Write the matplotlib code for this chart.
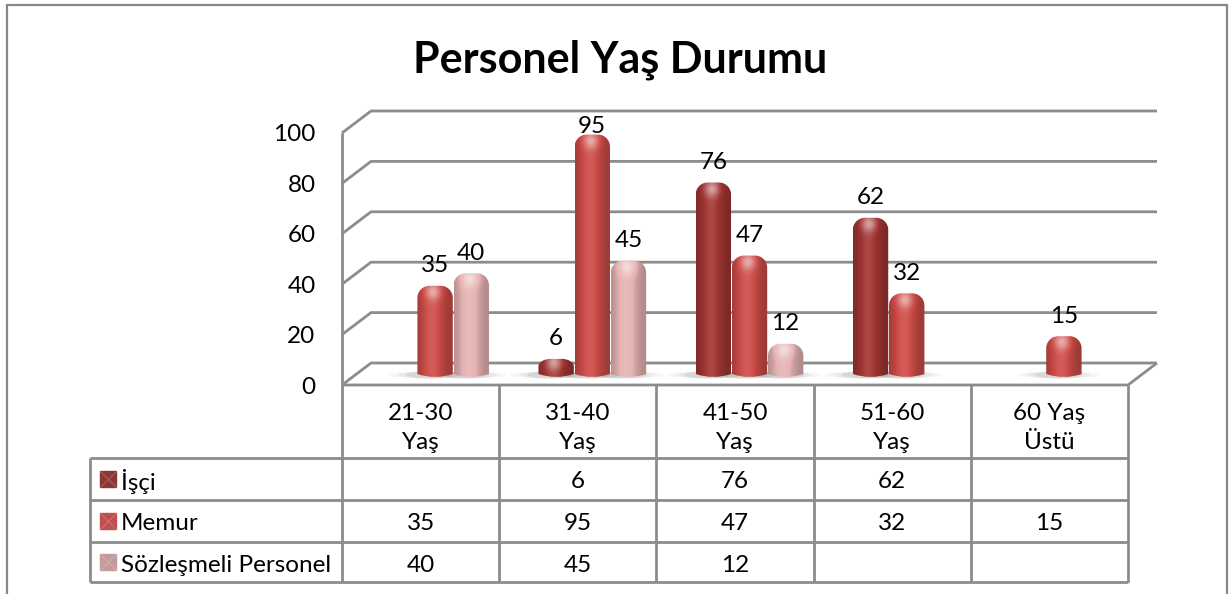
import numpy as np
import matplotlib
matplotlib.use('Agg')
import matplotlib.pyplot as plt
from matplotlib.patches import PathPatch, Ellipse, Rectangle
from matplotlib.path import Path
from matplotlib.colors import to_rgb

categories = ['21-30\nYaş', '31-40\nYaş', '41-50\nYaş', '51-60\nYaş', '60 Yaş\nÜstü']
series = ['İşçi', 'Memur', 'Sözleşmeli Personel']
isci = [None, 6, 76, 62, None]
memur = [35, 95, 47, 32, 15]
sozlesmeli = [40, 45, 12, None, None]
yticks = [0, 20, 40, 60, 80, 100]
title = 'Personel Yaş Durumu'

bar_colors = ['#a03532', '#cd4c48', '#e6b3b3']
key_colors = ['#8e3634', '#c0504d', '#c49a9a']
line_col = '#8c8c8c'

plt.rcParams['font.family'] = ['Lato', 'DejaVu Sans']
FS = 17.5

W, H = 1229, 594
fig = plt.figure(figsize=(W / 100, H / 100), dpi=100)

# front plane of the 3d box
ax = fig.add_axes([342 / W, 1 - 385 / H, 786 / W, 252 / H])
ax.set_autoscale_on(False)
ax.set_xlim(-0.5, len(categories) - 0.5)
ax.set_ylim(0, 100)
ax.axis('off')

# depth of the box in data units (about 29 px right, 22 px up)
DX = 29 / 157.2
DY = 22 / 2.52


def proj(x, v, d):
    return x + d * DX, v + d * DY


# walls and gridlines
grid = dict(color=line_col, lw=2, clip_on=False, solid_capstyle='butt', zorder=1)
xl, xr = -0.5, len(categories) - 0.5
for v in yticks:
    a, b, c = proj(xl, v, 0), proj(xl, v, 1), proj(xr, v, 1)
    ax.plot([a[0], b[0], c[0]], [a[1], b[1], c[1]], **grid)
    ax.annotate(str(v), (xl, v), xytext=(-19, 0), textcoords='offset points',
                ha='right', va='center_baseline', fontsize=FS, annotation_clip=False)
# floor front edge + right side
a, b = proj(xr, 0, 0), proj(xr, 0, 1)
ax.plot([xl, xr, b[0]], [0, 0, b[1]], **grid)
ax.plot([xl, xl], [0, 100], **grid)


def shade_img(color, wpx, hpx, rypx, rbpx):
    base = np.array(to_rgb(color))
    n = 60
    m = max(int(hpx + rbpx) + 2, 4)
    u = np.linspace(0, 1, n)[None, :]
    ypx = np.linspace(-rbpx, hpx, m)[:, None]
    s = 0.76 + 0.34 * np.exp(-((u - 0.42) / 0.3) ** 2)
    # highlight on the rounded top
    dtop = hpx - ypx
    spot = 0.5 * np.exp(-(((u - 0.45) * wpx) ** 2 + (dtop - rypx * 0.55) ** 2) / (2 * 5.5 ** 2))
    s = s + spot
    img = np.empty((m, n, 3))
    for k in range(3):
        ch = base[k] * np.minimum(s, 1) + (1 - base[k]) * np.clip(s - 1, 0, 1) * 0.9
        img[:, :, k] = ch
    return np.clip(img, 0, 1)


def cylinder(rect, color, z):
    x0, y0 = rect.get_x(), rect.get_y()
    w, h = rect.get_width(), rect.get_height()
    p0 = ax.transData.transform((x0, y0))
    p1 = ax.transData.transform((x0 + w, y0 + h))
    wpx, hpx = p1 - p0
    upy = h / hpx  # data units per pixel (vertical)
    rypx = min(0.34 * wpx, 0.5 * hpx)
    rx = 0.34 * w
    ry = rypx * upy
    rb = 3 * upy
    k = 0.55
    verts = [(x0, y0), (x0, y0 + h - ry),
             (x0, y0 + h - ry + k * ry), (x0 + rx - k * rx, y0 + h), (x0 + rx, y0 + h),
             (x0 + w - rx, y0 + h),
             (x0 + w - rx + k * rx, y0 + h), (x0 + w, y0 + h - ry + k * ry), (x0 + w, y0 + h - ry),
             (x0 + w, y0),
             (x0 + w / 2, y0 - 2 * rb), (x0, y0),
             (x0, y0)]
    codes = [Path.MOVETO, Path.LINETO,
             Path.CURVE4, Path.CURVE4, Path.CURVE4,
             Path.LINETO,
             Path.CURVE4, Path.CURVE4, Path.CURVE4,
             Path.LINETO,
             Path.CURVE3, Path.CURVE3,
             Path.CLOSEPOLY]
    patch = PathPatch(Path(verts, codes), facecolor='none', edgecolor='none', zorder=z)
    ax.add_patch(patch)
    # floor shadow
    for sc, al in [(2.3, 0.06), (1.8, 0.09), (1.35, 0.14)]:
        ax.add_patch(Ellipse((x0 + w * 0.35, y0 - rb * 0.3), w * sc, 7 * upy,
                             facecolor='#707070', edgecolor='none', alpha=al, zorder=2))
    img = shade_img(color, wpx, hpx, rypx, 3)
    im = ax.imshow(img, extent=[x0, x0 + w, y0 - rb * 1.1, y0 + h], origin='lower',
                   aspect='auto', interpolation='bilinear', zorder=z)
    im.set_clip_path(patch)
    return y0 + h


bw = 0.225
offs = [-0.23, 0.0, 0.23]
for i, (vals, c) in enumerate(zip([isci, memur, sozlesmeli], bar_colors)):
    xs = np.arange(len(categories)) + offs[i] + 0.5 * DX
    hs = np.array([np.nan if v is None else v for v in vals], float)
    bars = ax.bar(xs, hs, width=bw, bottom=0.5 * DY, color='none', zorder=3 + i)
    for rect, v in zip(bars, vals):
        if v is None:
            continue
        top = cylinder(rect, c, 3 + i)
        ly = min(top + 8.7, 103.2)
        ax.text(rect.get_x() + bw / 2, ly, str(v), ha='center', va='center_baseline',
                fontsize=FS, zorder=10, clip_on=False)

ax.set_xlim(-0.5, len(categories) - 0.5)
ax.set_ylim(0, 100)

# data table under the chart
ax_t = fig.add_axes([342 / W, 1 - 582 / H, 786 / W, 197 / H])
ax_t.set_xlim(-0.5, len(categories) - 0.5)
ax_t.set_ylim(197, 0)
ax_t.axis('off')
rows = [0, 73, 115, 157, 197]
lab_left = -0.5 - 252 / 157.2
tl = dict(color=line_col, lw=2, clip_on=False, solid_capstyle='butt')
for j in range(len(categories) + 1):
    ax_t.plot([j - 0.5, j - 0.5], [0, 197], **tl)
ax_t.plot([lab_left, lab_left], [73, 197], **tl)
for r in rows[1:]:
    ax_t.plot([lab_left, xr], [r, r], **tl)

for j, cat in enumerate(categories):
    ax_t.text(j, 43, cat, ha='center', va='center', fontsize=FS, linespacing=1.45)

for i, (name, vals, kc) in enumerate(zip(series, [isci, memur, sozlesmeli], key_colors)):
    yc = (rows[i + 1] + rows[i + 2]) / 2
    for j, v in enumerate(vals):
        if v is not None:
            ax_t.text(j, yc + 1, str(v), ha='center', va='center_baseline', fontsize=FS)
    kx = -0.5 - 234 / 157.2
    ax_t.plot(kx, yc, marker='s', ms=11.5, mfc=kc, mec=kc, clip_on=False)
    ax_t.plot(kx, yc, marker='x', ms=11, mew=0.8, color='white', alpha=0.2, clip_on=False)
    ax_t.text(-0.5 - 221 / 157.2, yc + 1, name, ha='left', va='center_baseline', fontsize=FS)

# title
fig.text(620 / W, 1 - 72 / H, title, ha='center', va='baseline', fontsize=31, fontweight='bold')

# outer chart frame
fig.add_artist(Rectangle((7 / W, -0.02), 1220 / W, 1.02 - 5 / H, transform=fig.transFigure,
                         fill=False, edgecolor='#878787', lw=1.6))

fig.savefig('out.png', dpi=100)
